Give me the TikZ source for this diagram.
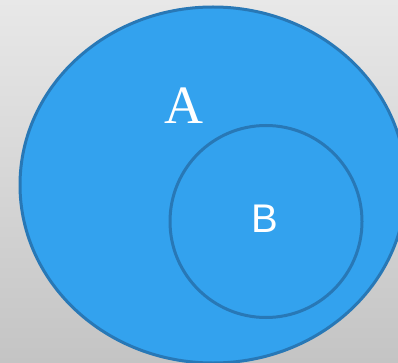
\documentclass[tikz,border=0pt]{standalone}
\usepackage{fontspec}
\newfontfamily\sansB{Liberation Sans}
\newfontfamily\serifA{Liberation Serif}
\definecolor{bgtop}{HTML}{E8E8E8}
\definecolor{bgbot}{HTML}{C4C4C4}
\definecolor{setfill}{HTML}{33A2EE}
\definecolor{setline}{HTML}{2878B6}
\tikzset{
  setshape/.style={fill=setfill, draw=setline, line width=3pt},
  setlabel/.style={text=white, inner sep=0pt}
}
\begin{document}
\begin{tikzpicture}[x=1pt,y=-1pt]
\useasboundingbox (0,0) rectangle (398,363);
\shade[shading=axis, shading angle=-20, top color=bgtop, bottom color=bgbot] (0,0) rectangle (398,363);
\begin{scope}
\clip (0,0) rectangle (398,363);
\draw[setshape] (213,185) ellipse [x radius=193, y radius=178];
\end{scope}
\draw[setshape] (266,221.5) circle [radius=96];
\node[setlabel, font=\serifA\fontsize{54}{54}\selectfont] (A) at (184,106) {A};
\node[setlabel, font=\sansB\fontsize{40}{40}\selectfont] (B) at (265,219) {B};
\end{tikzpicture}
\end{document}
